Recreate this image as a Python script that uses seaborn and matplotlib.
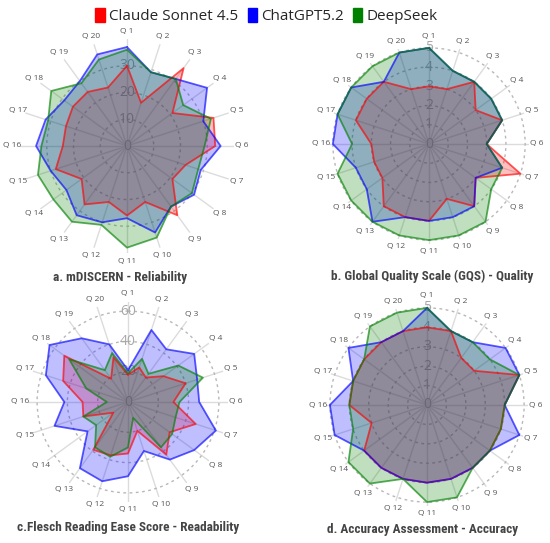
import numpy as np
import matplotlib
matplotlib.use("Agg")
import matplotlib.pyplot as plt
from matplotlib.patches import Patch
import seaborn as sns

questions = [f"Q {i}" for i in range(1, 21)]
models = ["Claude Sonnet 4.5", "ChatGPT5.2", "DeepSeek"]

# a. mDISCERN - Reliability
discern_claude = [30, 17, 36, 21, 34, 33, 23, 21, 32, 22, 26, 22, 27, 21, 28, 24, 24, 25, 25, 23]
discern_gpt = [37, 29, 31, 37, 30, 35, 29, 31, 28, 34, 27, 30, 32, 28, 30, 34, 32, 29, 30, 36]
discern_deepseek = [36, 29, 31, 26, 33, 29, 28, 30, 28, 36, 38, 31, 35, 34, 35, 32, 31, 35, 29, 34]

# b. GQS - Quality
gqs_claude = [3, 3, 4, 3, 4, 3, 5, 3, 4, 3, 4, 4, 4, 3, 3, 3, 4, 4, 4, 3]
gqs_gpt = [5, 4, 4, 4, 4, 3, 4, 3, 4, 4, 4, 4, 5, 4, 4, 5, 5, 5, 4, 5]
gqs_deepseek = [5, 4, 4, 4, 4, 3, 4, 4, 5, 5, 5, 5, 5, 5, 5, 4, 5, 5, 5, 5]

# c. Flesch Reading Ease - Readability
flesch_claude = [18, 24, 20, 29, 40, 30, 47, 34, 43, 20, 34, 37, 39, 12, 31, 30, 45, 52, 19, 31]
flesch_gpt = [21, 50, 43, 54, 48, 47, 61, 54, 47, 34, 49, 55, 54, 33, 51, 42, 57, 64, 52, 40]
flesch_deepseek = [19, 30, 23, 41, 52, 34, 33, 36, 37, 11, 30, 38, 37, 26, 31, 14, 29, 48, 26, 34]

# d. Accuracy
acc_claude = [4, 4, 3, 3, 5, 4, 4, 4, 4, 4, 4, 4, 4, 4, 3, 4, 4, 4, 4, 4]
acc_gpt = [5, 4, 4, 5, 5, 4, 5, 4, 4, 4, 4, 4, 4, 4, 5, 5, 4, 5, 4, 4]
acc_deepseek = [5, 4, 4, 4, 5, 4, 4, 4, 4, 5, 5, 4, 5, 5, 4, 4, 4, 4, 5, 5]

colors = ["#ff0000", "#0000ff", "#008000"]

sns.set_theme(style="white")
plt.rcParams["font.family"] = ["Open Sans", "DejaVu Sans"]

W, H = 550, 543
fig = plt.figure(figsize=(W / 100, H / 100), dpi=100)

panels = [
    # data, centre x, centre y, radius px, rmax, radial ticks, title, title x, title y
    ([discern_claude, discern_gpt, discern_deepseek], 127, 146, 107, 40,
     [10, 20, 30], "a. mDISCERN - Reliability", 120, 277),
    ([gqs_claude, gqs_gpt, gqs_deepseek], 429, 144, 100, 5.2,
     [1, 2, 3, 4, 5], "b. Global Quality Scale (GQS) - Quality", 432, 276),
    ([flesch_claude, flesch_gpt, flesch_deepseek], 128, 402, 100, 66,
     [20, 40, 60], "c.Flesch Reading Ease Score - Readability", 128, 527),
    ([acc_claude, acc_gpt, acc_deepseek], 427, 405, 101, 5.2,
     [1, 2, 3, 4, 5], "d. Accuracy Assessment - Accuracy", 423, 530),
]

theta = np.linspace(0, 2 * np.pi, len(questions), endpoint=False)
theta_closed = np.append(theta, theta[0])

for series, cx, cy, R, rmax, rticks, title, tx, ty in panels:
    ax = fig.add_axes([(cx - R) / W, (H - cy - R) / H, 2 * R / W, 2 * R / H],
                      projection="polar")
    ax.set_theta_zero_location("N")
    ax.set_theta_direction(-1)
    ax.set_facecolor("none")
    ax.set_ylim(0, rmax)
    ax.set_xticks(theta)
    ax.set_xticklabels([])
    ax.set_yticks(rticks)
    ax.set_yticklabels([])
    ax.xaxis.grid(True, color="#dcdcdc", lw=1.0, ls="-")
    ax.yaxis.grid(True, color="#b8b8b8", lw=1.0, ls=(0, (2, 2.5)))
    ax.spines["polar"].set_visible(False)
    ax.set_axisbelow(True)

    # question labels just outside the spokes
    for t, q in zip(theta, questions):
        lx = cx + (R + 8) * np.sin(t)
        ly = cy - (R + 8) * np.cos(t)
        fig.text(lx / W, 1 - ly / H, q, ha="center", va="center",
                 fontsize=6, color="#555555")

    for t in [0] + rticks:
        ax.text(0, t, str(t), ha="center", va="center", fontsize=10,
                color="#a8a8a8", zorder=1)

    for vals, col in zip(series, colors):
        v = np.append(vals, vals[0])
        ax.fill(theta_closed, v, color=col, alpha=0.25, lw=0, zorder=2)
        ax.plot(theta_closed, v, color=col, alpha=0.65, lw=1.3, zorder=3)

    fig.text(tx / W, 1 - ty / H, title, ha="center", va="center",
             fontsize=9.5, fontweight="bold", color="#444444",
             family=["Roboto Condensed", "Liberation Sans Narrow", "Lato"])

handles = [Patch(facecolor=c, edgecolor=c) for c in colors]
fig.legend(handles, models, loc="upper center", bbox_to_anchor=(0.485, 1.01),
           ncol=3, frameon=False, fontsize=11, handlelength=0.6,
           handleheight=1.0, handletextpad=0.3, columnspacing=0.6)

fig.savefig("out.png", dpi=100)
